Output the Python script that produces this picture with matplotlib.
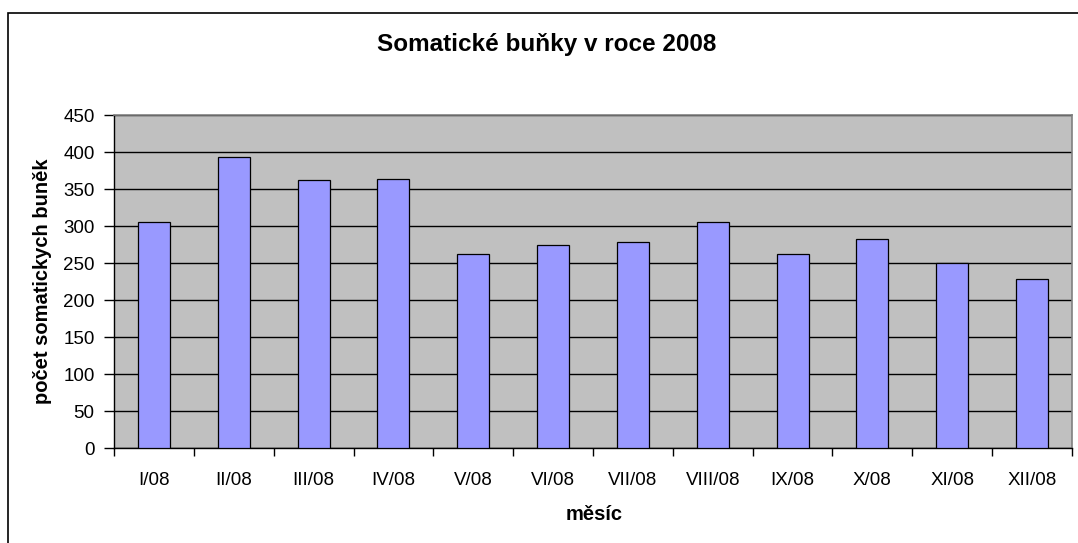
import numpy as np
import matplotlib.pyplot as plt
from matplotlib.patches import Rectangle

# data
months = ['I/08', 'II/08', 'III/08', 'IV/08', 'V/08', 'VI/08',
          'VII/08', 'VIII/08', 'IX/08', 'X/08', 'XI/08', 'XII/08']
cells = [306, 393, 362, 364, 262, 275, 279, 306, 262, 283, 250, 228]
y_ticks = [0, 50, 100, 150, 200, 250, 300, 350, 400, 450]

plt.rcParams['font.family'] = ['Liberation Sans', 'DejaVu Sans']

W, H = 1078, 543
fig = plt.figure(figsize=(W / 100, H / 100), dpi=100)
fig.patch.set_facecolor('white')

# chart area border (cut off at right and bottom in the reference)
fig.patches.append(Rectangle((8 / W, -0.2), 1.2, 1 - 13 / H + 0.2,
                             transform=fig.transFigure, fill=False,
                             edgecolor='black', linewidth=1.2))

left, right, top, bottom = 114, 1072, 115, 448.3
ax = fig.add_axes([left / W, 1 - bottom / H, (right - left) / W, (bottom - top) / H])
ax.set_facecolor('#C0C0C0')

x = np.arange(len(months))
ax.bar(x, cells, width=0.4, color='#9999FF', edgecolor='black', linewidth=0.9, zorder=3)

ax.set_xlim(-0.5, len(months) - 0.5)
ax.set_ylim(0, 450)
ax.set_yticks(y_ticks)
ax.yaxis.grid(True, color='black', linewidth=1.0, zorder=1)
ax.set_axisbelow(True)

# category boundary ticks, labels in the middle of each category
ax.set_xticks(np.arange(-0.5, len(months), 1.0))
ax.set_xticklabels([])
ax.set_xticks(x, minor=True)
ax.set_xticklabels(months, minor=True, fontsize=13.5)
ax.tick_params(axis='x', which='major', direction='out', length=6, width=1, color='black')
ax.tick_params(axis='x', which='minor', length=0, pad=17)
ax.tick_params(axis='y', direction='out', length=7, width=1, pad=7, labelsize=13.5)

for side in ['top', 'right']:
    ax.spines[side].set_color('#808080')
    ax.spines[side].set_linewidth(1.2)
for side in ['left', 'bottom']:
    ax.spines[side].set_color('black')
    ax.spines[side].set_linewidth(1.0)

fig.text(547 / W, 1 - 45 / H, 'Somatické buňky v roce 2008', ha='center', va='center',
         fontsize=17.5, fontweight='bold')
fig.text(594 / W, 1 - 515 / H, 'měsíc', ha='center', va='center',
         fontsize=14.5, fontweight='bold')
fig.text(43 / W, 1 - 281.5 / H, 'počet somatickych buněk', ha='center', va='center',
         rotation=90, fontsize=14.5, fontweight='bold')

plt.savefig('out.png', dpi=100)
